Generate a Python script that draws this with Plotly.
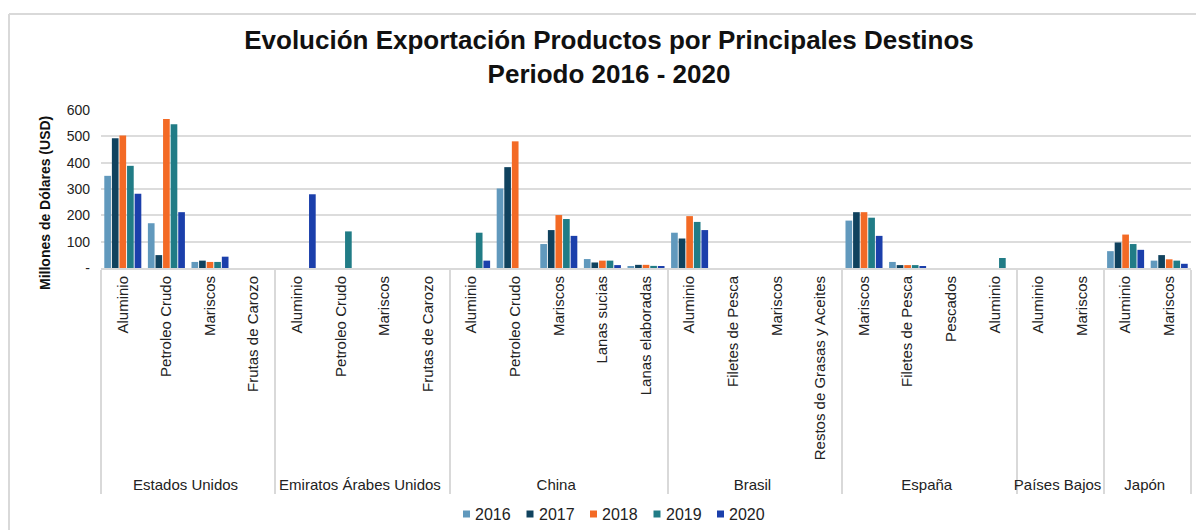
import plotly.graph_objects as go

countries = ["Estados Unidos"] * 4 + ["Emiratos Árabes Unidos"] * 4 + ["China"] * 5 + ["Brasil"] * 4 + ["España"] * 4 + ["Países Bajos"] * 2 + ["Japón"] * 2
products = ["Aluminio", "Petroleo Crudo", "Mariscos", "Frutas de Carozo",
            "Aluminio", "Petroleo Crudo", "Mariscos", "Frutas de Carozo",
            "Aluminio", "Petroleo Crudo", "Mariscos", "Lanas sucias", "Lanas elaboradas",
            "Aluminio", "Filetes de Pesca", "Mariscos", "Restos de Grasas y Aceites",
            "Mariscos", "Filetes de Pesca", "Pescados", "Aluminio",
            "Aluminio", "Mariscos",
            "Aluminio", "Mariscos"]

years = ["2016", "2017", "2018", "2019", "2020"]
v2016 = [350, 170, 23, 0, 0, 0, 0, 0, 0, 302, 91, 34, 6, 134, 0, 0, 0, 180, 23, 0, 0, 0, 0, 64, 28]
v2017 = [493, 49, 28, 0, 0, 0, 0, 0, 0, 383, 144, 21, 12, 112, 0, 0, 0, 212, 11, 0, 0, 0, 0, 97, 49]
v2018 = [503, 566, 23, 0, 0, 0, 0, 0, 0, 481, 201, 28, 12, 197, 0, 0, 0, 212, 11, 0, 0, 0, 0, 127, 33]
v2019 = [388, 546, 23, 0, 0, 139, 0, 0, 134, 0, 186, 28, 8, 175, 0, 0, 0, 191, 11, 0, 38, 0, 0, 91, 28]
v2020 = [282, 212, 43, 0, 280, 0, 0, 0, 28, 0, 122, 11, 4, 144, 0, 0, 0, 122, 6, 0, 0, 0, 0, 69, 16]
series = [v2016, v2017, v2018, v2019, v2020]
colors = ["#6199bd", "#10425e", "#f36a25", "#217c86", "#1b3fab"]

y_ticks = [0, 100, 200, 300, 400, 500, 600]
y_labels = ["-", "100", "200", "300", "400", "500", "600"]

W, H = 1196, 530
L, R, T, B = 101, 5, 110, 262
PW, PH = W - L - R, H - T - B

# keep each destination's product order as given (plotly orders inner labels by
# first appearance across the whole axis, so make labels per group distinct
# with invisible zero-width spaces)
group_index = {}
for c in countries:
    group_index.setdefault(c, len(group_index))
inner_labels = [p + "\u200b" * group_index[c] for c, p in zip(countries, products)]

fig = go.Figure()
for name, vals, col in zip(years, series, colors):
    fig.add_trace(go.Bar(x=[countries, inner_labels], y=vals, name=name,
                         marker=dict(color=col, line=dict(width=0))))

font_family = "Liberation Sans, Arial, sans-serif"

def px_x(x):
    return (x - L) / PW

def px_y(y):
    return (H - B - y) / PH

annotations = [
    dict(text="<b>Millones de Dólares (USD)</b>", textangle=-90, showarrow=False,
         xref="paper", yref="paper", x=px_x(45), y=px_y(203), xanchor="center", yanchor="middle",
         font=dict(size=14, color="#111111", family=font_family)),
]
shapes = [
    dict(type="line", xref="paper", yref="paper", x0=px_x(9), x1=px_x(1300), y0=px_y(14), y1=px_y(14),
         line=dict(color="#d9d9d9", width=2)),
    dict(type="line", xref="paper", yref="paper", x0=px_x(9), x1=px_x(9), y0=px_y(14), y1=px_y(600),
         line=dict(color="#d9d9d9", width=2)),
]

# legend drawn along the bottom: square swatch + year label
leg_start, leg_step, leg_y = 463, 63.5, 514
for i, (name, col) in enumerate(zip(years, colors)):
    x0 = leg_start + i * leg_step
    shapes.append(dict(type="rect", xref="paper", yref="paper",
                       x0=px_x(x0), x1=px_x(x0 + 7), y0=px_y(leg_y - 3.5), y1=px_y(leg_y + 3.5),
                       fillcolor=col, line=dict(width=0)))
    annotations.append(dict(text=name, showarrow=False, xref="paper", yref="paper",
                            x=px_x(x0 + 10), y=px_y(leg_y), xanchor="left", yanchor="middle",
                            font=dict(size=16, color="#222222", family=font_family)))

fig.update_layout(
    width=W, height=H,
    paper_bgcolor="white", plot_bgcolor="white",
    margin=dict(l=L, r=R, t=T, b=B, autoexpand=False),
    barmode="group", bargap=0.13, bargroupgap=0.12,
    font=dict(family=font_family, color="#222222"),
    title=dict(text="<b>Evolución Exportación Productos por Principales Destinos<br>Periodo 2016 - 2020</b>",
               x=609 / W, xanchor="center", y=1 - 49 / H, yanchor="middle", yref="container",
               font=dict(size=26, color="#111111", family=font_family)),
    showlegend=False,
    xaxis=dict(type="multicategory", tickangle=-90, tickfont=dict(size=15, color="#222222"),
               showdividers=True, dividercolor="#d9d9d9", dividerwidth=2,
               showline=True, linecolor="#d9d9d9", linewidth=2, ticks="", showgrid=False),
    yaxis=dict(range=[0, 600], tickvals=y_ticks, ticktext=y_labels,
               tickfont=dict(size=14, color="#222222"), gridcolor="#dcdcdc", gridwidth=2,
               zeroline=False, showline=False, ticklabelstandoff=10),
    annotations=annotations,
    shapes=shapes,
)

fig.write_html("out.html", config={"displayModeBar": False},
               post_script="document.body.style.margin='0';")
